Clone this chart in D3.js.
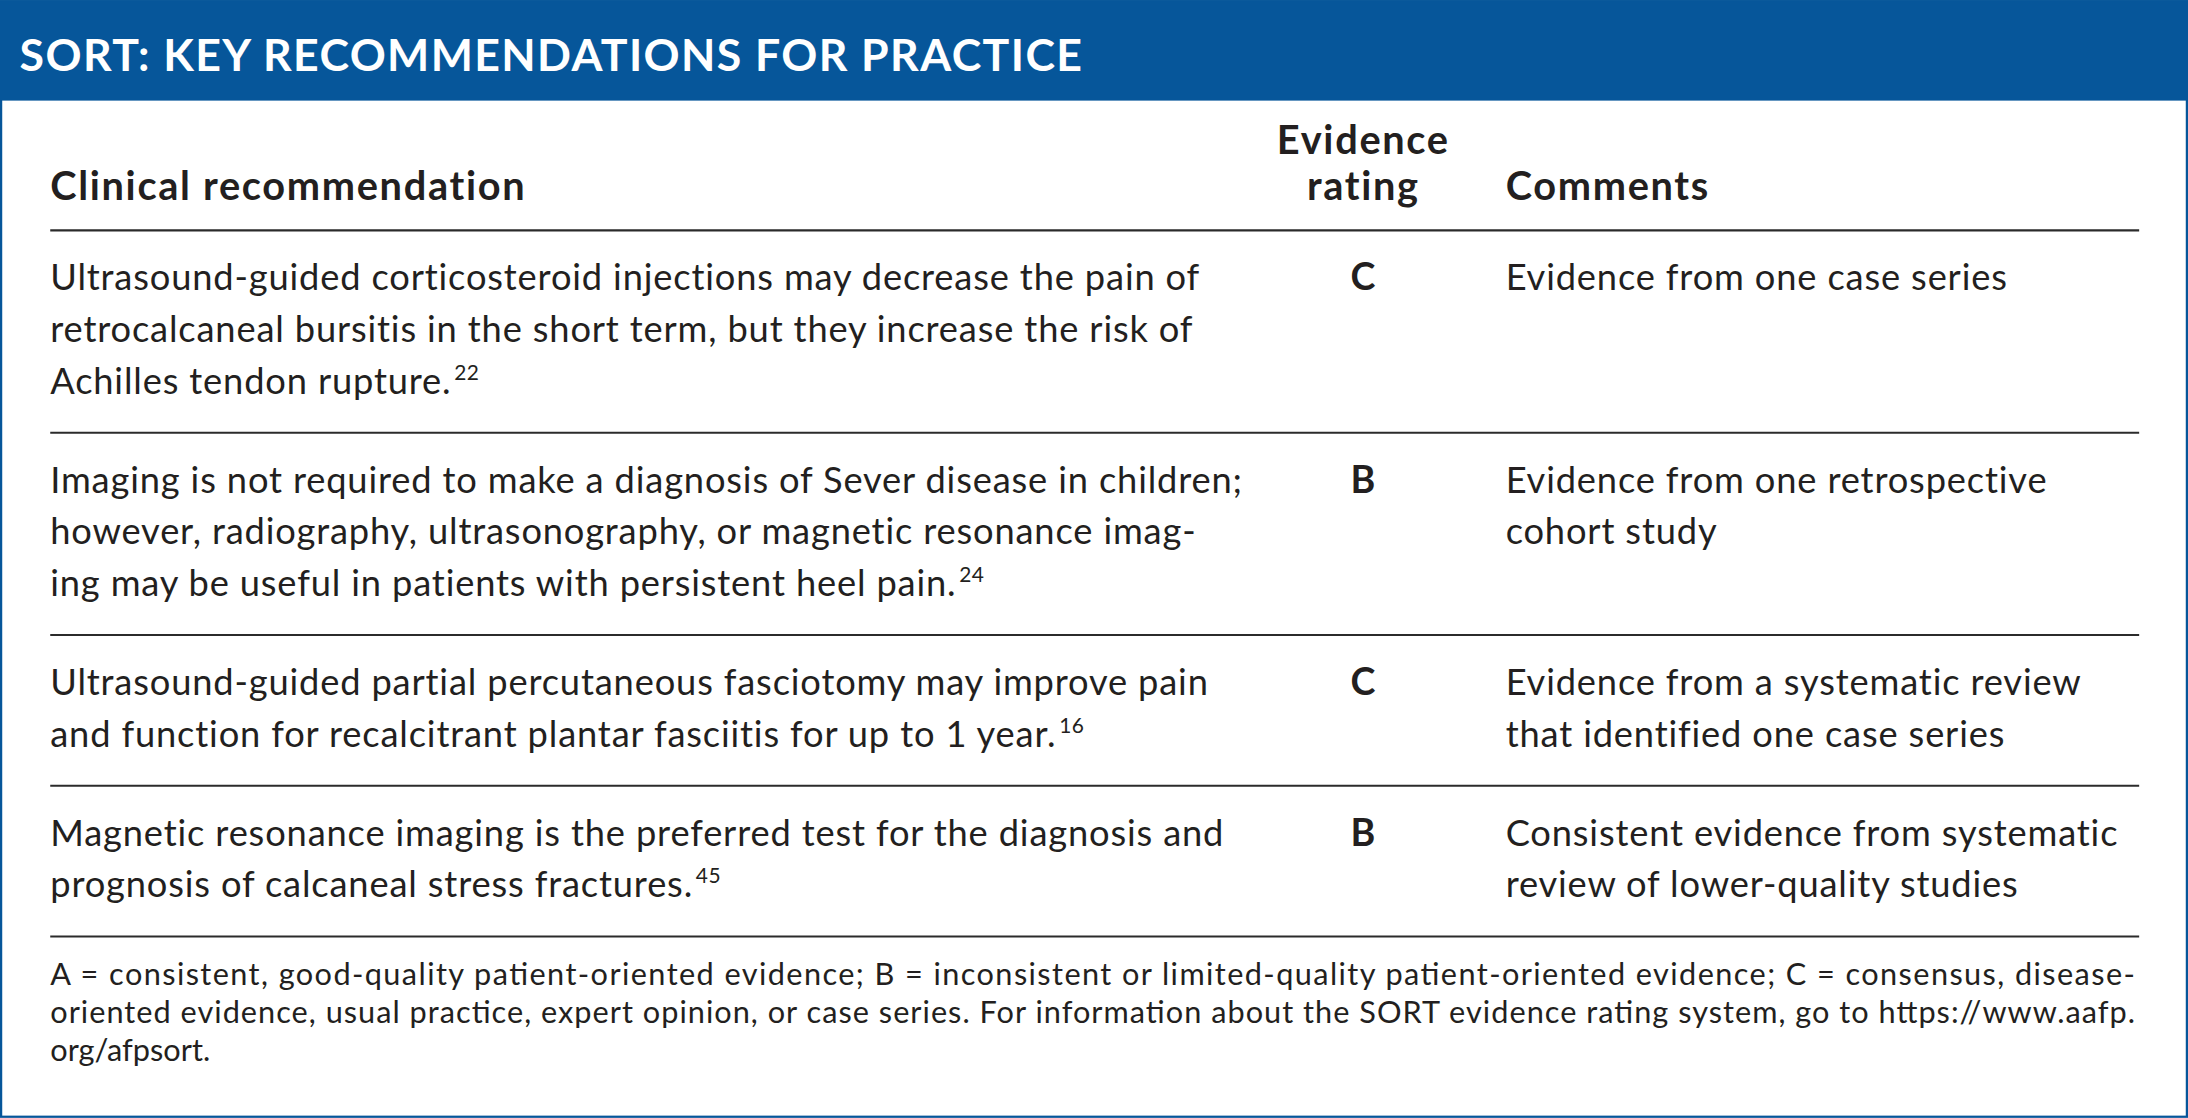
<!DOCTYPE html>
<html>
<head>
<meta charset="utf-8">
<script src="https://cdn.jsdelivr.net/npm/d3@7"></script>
<style>
  html, body { margin: 0; padding: 0; background: #fff; }
  svg { display: block; }
</style>
</head>
<body>
<div id="chart"></div>
<script>
// table content, one line per entry as broken in the print layout
var title = "SORT: KEY RECOMMENDATIONS FOR PRACTICE";
var columnHeads = ["Clinical recommendation", ["Evidence", "rating"], "Comments"];

var recommendations = [
  ["Ultrasound-guided corticosteroid injections may decrease the pain of",
   "retrocalcaneal bursitis in the short term, but they increase the risk of",
   "Achilles tendon rupture."],
  ["Imaging is not required to make a diagnosis of Sever disease in children;",
   "however, radiography, ultrasonography, or magnetic resonance imag-",
   "ing may be useful in patients with persistent heel pain."],
  ["Ultrasound-guided partial percutaneous fasciotomy may improve pain",
   "and function for recalcitrant plantar fasciitis for up to 1 year."],
  ["Magnetic resonance imaging is the preferred test for the diagnosis and",
   "prognosis of calcaneal stress fractures."]
];
var references = ["22", "24", "16", "45"];
var ratings = ["C", "B", "C", "B"];
var comments = [
  ["Evidence from one case series"],
  ["Evidence from one retrospective", "cohort study"],
  ["Evidence from a systematic review", "that identified one case series"],
  ["Consistent evidence from systematic", "review of lower-quality studies"]
];
var footnote = [
  "A = consistent, good-quality patient-oriented evidence; B = inconsistent or limited-quality patient-oriented evidence; C = consensus, disease-",
  "oriented evidence, usual practice, expert opinion, or case series. For information about the SORT evidence rating system, go to https://www.aafp.",
  "org/afpsort."
];

var W = 1568, H = 801;
var blue = "#06569a", ink = "#231f20";
var font = "Lato, 'Open Sans', sans-serif";

var svg = d3.select("#chart").append("svg")
  .attr("width", 2188).attr("height", 1118)
  .attr("viewBox", "0 0 " + W + " " + H);

// frame + title band
svg.append("rect").attr("x", 0.8).attr("y", 0.8).attr("width", W - 1.6).attr("height", H - 1.6)
  .attr("fill", "#fff").attr("stroke", blue).attr("stroke-width", 1.6);
svg.append("rect").attr("x", 0).attr("y", 0).attr("width", W).attr("height", 72).attr("fill", blue);
svg.append("text").attr("x", 14).attr("y", 51)
  .attr("font-family", font).attr("font-weight", 700).attr("font-size", 32)
  .attr("letter-spacing", 1.0)
  .attr("fill", "#fff").text(title);

// columns
var col = d3.scaleOrdinal().domain(["rec", "rating", "comment"]).range([36, 977, 1079]);
var left = 36, right = 1533;
var lineH = 37, fs = 26;

// row heights follow the number of lines
var nLines = recommendations.map(function(r, i) { return Math.max(r.length, comments[i].length); });
var rowTop = [165];
nLines.forEach(function(n, i) { rowTop.push(rowTop[i] + 71 + (n - 1) * lineH); });

// header
var head = svg.append("g").attr("font-family", font).attr("font-weight", 700)
  .attr("font-size", 28.5).attr("letter-spacing", 1.2).attr("fill", ink);
head.append("text").attr("x", col("rec")).attr("y", 143).text(columnHeads[0]);
head.append("text").attr("x", col("rating")).attr("y", 110).attr("text-anchor", "middle").text(columnHeads[1][0]);
head.append("text").attr("x", col("rating")).attr("y", 143).attr("text-anchor", "middle").text(columnHeads[1][1]);
head.append("text").attr("x", col("comment")).attr("y", 143).text(columnHeads[2]);

// rules
svg.selectAll("line.rule").data(rowTop).enter().append("line")
  .attr("class", "rule")
  .attr("x1", left).attr("x2", right)
  .attr("y1", function(d) { return d; }).attr("y2", function(d) { return d; })
  .attr("stroke", "#2b2b2b").attr("stroke-width", 1.5);

// body rows
var rows = svg.selectAll("g.row").data(recommendations).enter().append("g")
  .attr("class", "row")
  .attr("transform", function(d, i) { return "translate(0," + (rowTop[i] + 43) + ")"; })
  .attr("font-family", font).attr("font-size", fs).attr("letter-spacing", 0.6).attr("fill", ink);

rows.each(function(lines, i) {
  var g = d3.select(this);
  lines.forEach(function(s, j) {
    var t = g.append("text").attr("x", col("rec")).attr("y", j * lineH);
    t.append("tspan").text(s);
    if (j === lines.length - 1) {
      t.append("tspan").attr("dx", 2).attr("dy", -10).attr("font-size", 15)
        .attr("letter-spacing", 0.3).text(references[i]);
    }
  });
  g.append("text").attr("x", col("rating")).attr("y", 0).attr("text-anchor", "middle")
    .attr("font-weight", 700).attr("font-size", 27).text(ratings[i]);
  comments[i].forEach(function(s, j) {
    g.append("text").attr("x", col("comment")).attr("y", j * lineH).text(s);
  });
});

// footnote, justified like the print version
var footTop = rowTop[rowTop.length - 1];
svg.append("g").attr("font-family", font).attr("font-size", 22).attr("fill", ink)
  .selectAll("text").data(footnote).enter().append("text")
  .attr("x", left)
  .attr("y", function(d, i) { return footTop + 35 + i * 27; })
  .each(function(d, i) {
    if (i < footnote.length - 1) d3.select(this).attr("textLength", right - 3 - left).attr("lengthAdjust", "spacing");
  })
  .text(function(d) { return d; });
</script>
</body>
</html>
